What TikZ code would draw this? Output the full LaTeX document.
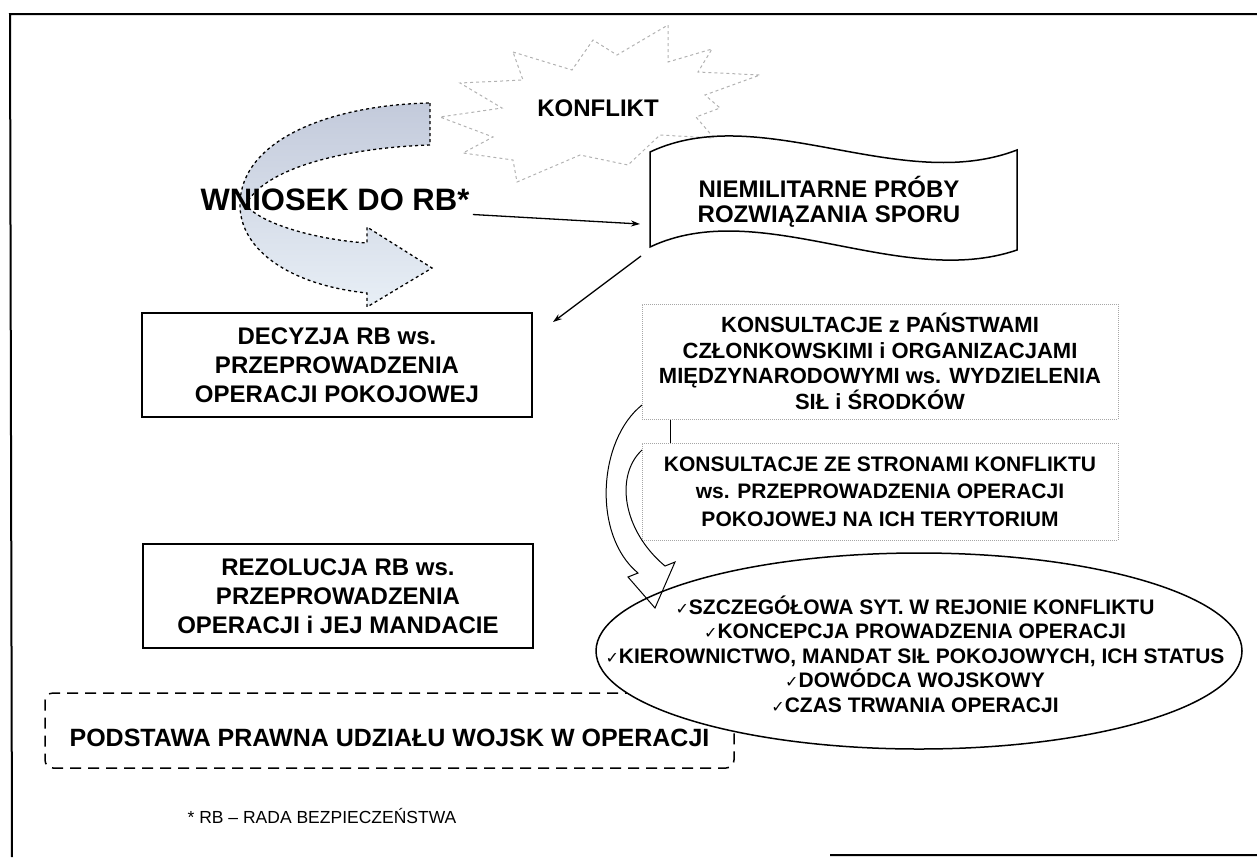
\documentclass[tikz,border=0pt]{standalone}
\usepackage{fontspec}
\setmainfont{Liberation Sans}
\newfontfamily\chkfont{DejaVu Sans}
\usetikzlibrary{shapes.geometric,arrows.meta}
\newcommand{\setfs}[2]{\fontsize{#1}{#2}\selectfont}
\newcommand{\ck}{{\chkfont\mdseries\fontsize{16}{16}\selectfont ✓}}
\definecolor{armtop}{HTML}{C3CADB}
\definecolor{armbot}{HTML}{E8EFF6}
\tikzset{
  box/.style={draw, line width=1.5pt, align=center, minimum width=390pt,
    minimum height=104pt, font=\bfseries\setfs{24}{29}},
  kbox/.style={draw=gray!70, densely dotted, line width=1pt, align=center,
    minimum width=476pt},
  link/.style={line width=1.5pt},
  arr/.style={line width=1.3pt, -{Stealth[length=9pt,width=6pt]}},
  burst/.style={draw=gray!60, dash pattern=on 3pt off 3pt, line width=1pt}
}
\begin{document}
\begin{tikzpicture}[x=1pt,y=-1pt]
    \useasboundingbox (0,0) rectangle (1257,857);
    % frame
    \draw[line width=2pt] (1257,14) -- (10,14) -- (12,857)
          (830,855) -- (1257,855);
    % conflict
    \draw[burst] plot coordinates {(513,52) (572,70) (593,40) (617,55)
          (668,25) (668,62) (712,49) (698,72) (760,75) (705,95) (720,108)
          (696,117) (714,138) (660,135) (628,165) (580,155) (517,182)
          (513,160) (463,153) (493,137) (440,117) (502,108) (460,83)
          (523,80)} -- cycle;
    \node[font=\bfseries\setfs{24}{29}] (kf) at (598,108) {KONFLIKT};
    % turning arrow
    \shadedraw[top color=armtop, bottom color=armbot, dashed, line width=1.3pt]
          (430,103) -- (430,145) .. controls (340,148) and (262,170) .. (246,205)
          .. controls (262,225) and (320,240) .. (367,243) -- (367,227)
          -- (432,268) -- (367,307) -- (367,293)
          .. controls (290,285) and (240,250) .. (240,205)
          .. controls (240,140) and (330,105) .. (430,103) -- cycle;
    \node[font=\bfseries\setfs{31}{36}] (wn) at (335,200) {WNIOSEK DO RB*};
    % flag
    \draw[line width=1.5pt] (650,152) .. controls (760,100) and (900,195) .. (1017,150)
          -- (1017,250) .. controls (900,290) and (760,195) .. (650,247) -- cycle;
    \node[align=center, font=\bfseries\setfs{24}{25}] (nm) at (829,202)
          {NIEMILITARNE PRÓBY\\ROZWIĄZANIA SPORU};
    \coordinate (nmw) at (640,224);
    \coordinate (nmsw) at (641,256);
    \coordinate (dect) at (553,322);
    \draw[arr] (wn.south east) -- (nmw);
    \draw[arr] (nmsw) -- (dect);
    % decisions
    \node[box] (dec) at (337,365) {DECYZJA RB ws.\\PRZEPROWADZENIA\\OPERACJI POKOJOWEJ};
    \node[box] (rez) at (338,596) {REZOLUCJA RB ws.\\PRZEPROWADZENIA\\OPERACJI i JEJ MANDACIE};
    % consultations
    \node[kbox, minimum height=115pt, font=\bfseries\setfs{22}{25.5}] (k1) at (880,361.5)
          {KONSULTACJE z PAŃSTWAMI\\CZŁONKOWSKIMI i ORGANIZACJAMI\\MIĘDZYNARODOWYMI ws. WYDZIELENIA\\SIŁ i ŚRODKÓW};
    \node[kbox, minimum height=97pt, font=\bfseries\setfs{21}{27.5}] (k2) at (880,491.5)
          {KONSULTACJE ZE STRONAMI KONFLIKTU\\ws. PRZEPROWADZENIA OPERACJI\\POKOJOWEJ NA ICH TERYTORIUM};
    \draw[link] ([xshift=29pt]k1.south west) -- ([xshift=29pt]k2.north west);
    % legal basis
    \node[draw, dash pattern=on 11pt off 7pt, line width=1.5pt, rounded corners=8pt,
          minimum width=689pt, minimum height=75pt, text height=31pt, text depth=0pt,
          font=\bfseries\setfs{25}{29}]
          (pod) at (389.5,730.5) {PODSTAWA PRAWNA UDZIAŁU WOJSK W OPERACJI};
    % mandate
    \draw[line width=1.5pt, fill=white] (919,651) ellipse [x radius=323, y radius=98];
    \node[align=center, font=\bfseries\setfs{21}{24.5}] (el) at (915,654)
          {\ck SZCZEGÓŁOWA SYT. W REJONIE KONFLIKTU\\
           \ck KONCEPCJA PROWADZENIA OPERACJI\\
           \ck KIEROWNICTWO, MANDAT SIŁ POKOJOWYCH, ICH STATUS\\
           \ck DOWÓDCA WOJSKOWY\\
           \ck CZAS TRWANIA OPERACJI};
    \draw[line width=1pt] (642,405) .. controls (598,440) and (592,535) .. (638,573)
          -- (628,577) -- (655,608) -- (675,562) -- (665,566)
          .. controls (622,530) and (615,475) .. (642,450);
    \node[font=\setfs{17.5}{20}] (fn) at (322,816) {* RB – RADA BEZPIECZEŃSTWA};
  \end{tikzpicture}
\end{document}
